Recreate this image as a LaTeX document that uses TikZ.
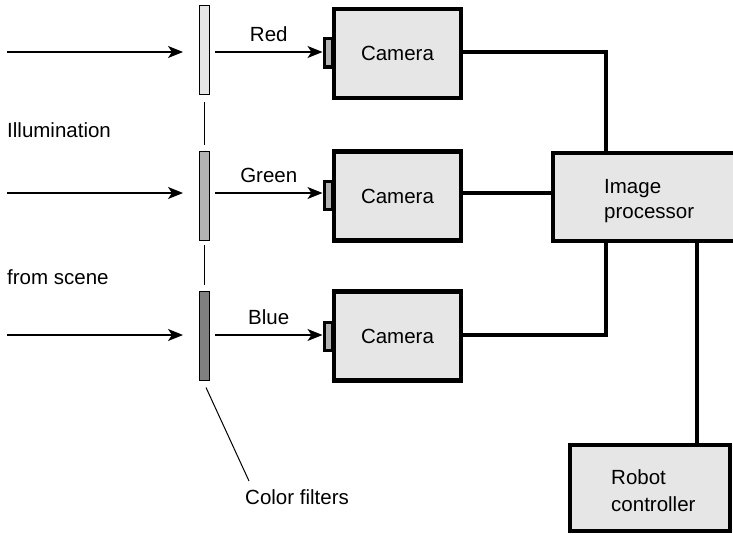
\documentclass[tikz,border=0pt]{standalone}
\usepackage{fontspec}
\setmainfont{Liberation Sans}
\usetikzlibrary{arrows.meta,calc}
\definecolor{boxfill}{HTML}{E6E6E6}
\definecolor{filtred}{HTML}{E6E6E6}
\definecolor{filtgreen}{HTML}{B3B3B3}
\definecolor{filtblue}{HTML}{808080}
\begin{document}
\begin{tikzpicture}[x=1pt,y=-1pt,
  every node/.style={font=\fontsize{20.5}{24}\selectfont},
  box/.style={draw=black,line width=4.5pt,fill=boxfill,inner sep=0pt,rectangle},
  cam/.style={box,minimum width=127pt,minimum height=89pt},
  filt/.style={draw=black,line width=1pt,inner sep=0pt,minimum width=10pt,minimum height=89pt,rectangle},
  lens/.style={draw=black,line width=3pt,fill=filtgreen,inner sep=0pt,minimum width=8pt,minimum height=28pt,rectangle},
  ray/.style={line width=1.3pt,-{Stealth[length=15pt,width=12pt,inset=4pt]}},
  wire/.style={line width=4.5pt},
  thin/.style={line width=1pt}]
\useasboundingbox (0,0) rectangle (733,535);

% filters
\node[filt,fill=filtred] (f1) at (204,50) {};
\node[filt,fill=filtgreen] (f2) at (204.5,196) {};
\node[filt,fill=filtblue] (f3) at (204,335.5) {};
\coordinate (fx) at (204,0);
\draw[thin] (fx |- 0,102) -- (fx |- 0,145);
\draw[thin] (fx |- 0,245) -- (fx |- 0,285);

% cameras
\node[cam] (cam1) at (397.5,53.5) {Camera};
\node[cam] (cam2) at (397.5,196) {Camera};
\node[cam] (cam3) at (397.5,336) {Camera};
\node[lens] (l1) at (328,53) {};
\node[lens] (l2) at (328,195) {};
\node[lens] (l3) at (328,336) {};

% incoming rays
\coordinate (s1) at (7,52);
\coordinate (s2) at (7,193);
\coordinate (s3) at (7,335);
\draw[ray] (s1) -- (s1 -| 183,0);
\draw[ray] (s2) -- (s2 -| 183,0);
\draw[ray] (s3) -- (s3 -| 183,0);

% outgoing rays
\draw[ray] (215,52) -- (l1.west |- 0,52) node[midway,above=6pt] (lr) {Red};
\draw[ray] (215,193) -- (l2.west |- 0,193) node[midway,above=6pt] (lg) {Green};
\draw[ray] (215,335) -- (l3.west |- 0,335) node[midway,above=6pt] (lb) {Blue};

% side labels
\node[anchor=base west,inner sep=0pt] (ill) at (7,137) {Illumination};
\node[anchor=base west,inner sep=0pt] (fs) at (7,284) {from scene};
\node[anchor=base west,inner sep=0pt] (cf) at (245,504) {Color filters};
\coordinate (cft) at (249,481);
\draw[thin] ($(f3.south)+(2,7)$) -- (cft);

% processor and robot
\node[box,minimum width=185pt,minimum height=88pt] (proc) at (645.5,197) {};
\node[anchor=base west,inner sep=0pt] (pt1) at (604,193) {Image};
\node[anchor=base west,inner sep=0pt] (pt2) at (604,218) {processor};
\node[box,minimum width=160pt,minimum height=86pt] (robot) at (650,488) {};
\node[anchor=base west,inner sep=0pt] (rt1) at (611,484) {Robot};
\node[anchor=base west,inner sep=0pt] (rt2) at (611,511) {controller};

% wires
\coordinate (px) at (606,0);
\coordinate (rx) at (697,0);
\draw[wire] (cam1.east |- 0,52) -| (px |- proc.north);
\draw[wire] (cam2.east |- 0,193) -- (proc.west |- 0,193);
\draw[wire] (cam3.east |- 0,335) -| (px |- proc.south);
\draw[wire] (rx |- proc.south) -- (rx |- robot.north);
\end{tikzpicture}
\end{document}
